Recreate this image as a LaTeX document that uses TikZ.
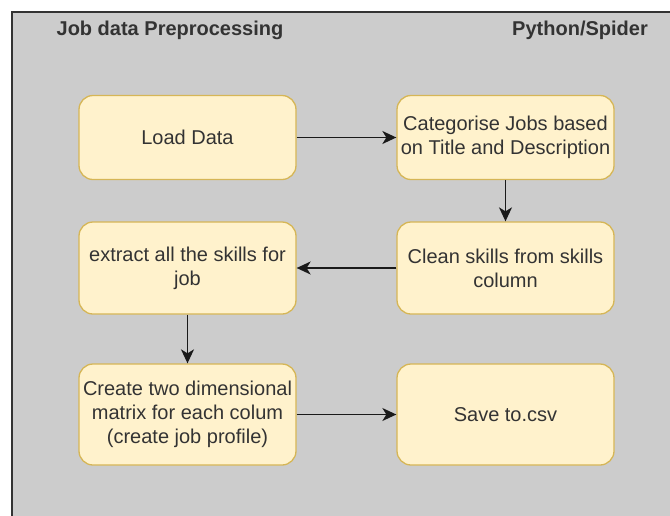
\documentclass[tikz,border=0pt]{standalone}
\usepackage{fontspec}
\setmainfont{Liberation Sans}
\usetikzlibrary{arrows.meta}

\definecolor{panelgray}{HTML}{CCCCCC}
\definecolor{panelline}{HTML}{333333}
\definecolor{boxfill}{HTML}{FFF2CC}
\definecolor{boxline}{HTML}{D6B656}
\definecolor{inktext}{HTML}{333333}
\definecolor{arrowink}{HTML}{1A1A1A}

\tikzset{
  stepbox/.style={
    draw=boxline, fill=boxfill, line width=1.3pt,
    rounded corners=14pt, rectangle,
    minimum width=217pt, inner sep=0pt,
    align=center, text=inktext,
    font=\fontsize{20}{24}\selectfont
  },
  flow/.style={
    draw=arrowink, line width=1.5pt,
    -{Stealth[length=14pt, width=13pt, inset=4pt]}
  },
  heading/.style={
    text=inktext, inner sep=0pt,
    font=\fontsize{20}{24}\selectfont\bfseries
  }
}

\begin{document}
\begin{tikzpicture}[x=1pt, y=-1pt]
  % page area and crop
  \clip (0,0) rectangle (670,515);
  \fill[white] (0,0) rectangle (670,515);

  % swimlane panel running off the right and bottom edges
  \draw[fill=panelgray, draw=panelline, line width=1.8pt]
    (12,12) rectangle (700,545);

  % panel headings
  \node[heading] (title) at (170,30) {Job data Preprocessing};
  \node[heading] (tool) at (580,30) {Python/Spider};

  % processing steps
  \node[stepbox, minimum height=84pt]  (load)    at (187.5,137.5) {Load Data};
  \node[stepbox, minimum height=84pt]  (cat)     at (505.5,137.5) {Categorise Jobs based\\on Title and Description};
  \node[stepbox, minimum height=92pt]  (clean)   at (505.5,268)   {Clean skills from skills\\column};
  \node[stepbox, minimum height=92pt]  (extract) at (187.5,268)   {extract all the skills for\\job};
  \node[stepbox, minimum height=101pt] (create)  at (187.5,414.5) {Create two dimensional\\matrix for each colum\\(create job profile)};
  \node[stepbox, minimum height=101pt] (save)    at (505.5,414.5) {Save to.csv};

  % flow between steps
  \draw[flow] (load) -- (cat);
  \draw[flow] (cat) -- (clean);
  \draw[flow] (clean) -- (extract);
  \draw[flow] (extract) -- (create);
  \draw[flow] (create) -- (save);
\end{tikzpicture}
\end{document}
